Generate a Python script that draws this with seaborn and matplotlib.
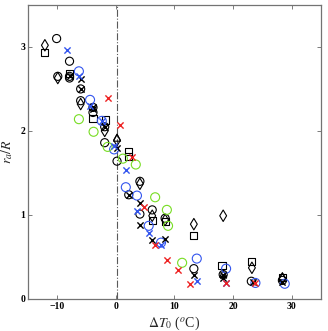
import matplotlib
matplotlib.use('Agg')
import matplotlib.pyplot as plt
import seaborn as sns
import pandas as pd

# dados (deltaT0 em oC, ra/R)
blk_o_x = [-10.1, -7.9, -9.9, -7.9, -6.0, -3.9, -1.9, 0.2, 4.1, 4.1, 6.2, 8.4, 13.3, 23.1, 28.4]
blk_o_y = [3.10, 2.83, 2.65, 2.63, 2.36, 2.22, 1.86, 1.64, 1.40, 1.01, 1.06, 0.96, 0.36, 0.21, 0.22]

blk_s_x = [-12.1, -7.9, -3.9, -1.7, 2.2, 2.2, 6.2, 8.4, 13.3, 18.1, 23.2, 28.4]
blk_s_y = [2.93, 2.68, 2.15, 2.13, 1.76, 1.70, 0.93, 0.92, 0.76, 0.40, 0.45, 0.26]

blk_d_x = [-12.1, -9.9, -6.0, -1.9, 0.2, 4.1, 6.2, 8.4, 13.3, 18.3, 23.2, 28.4]
blk_d_y = [3.02, 2.63, 2.32, 2.00, 1.89, 1.37, 0.99, 0.94, 0.89, 0.99, 0.37, 0.24]

blk_x_x = [-6.0, -3.9, 0.2, 4.1, 4.1, 6.2, 8.4, 13.3, 18.3, 23.4, 28.4]
blk_x_y = [2.62, 2.26, 1.80, 1.14, 0.88, 0.70, 0.71, 0.29, 0.25, 0.20, 0.20]

blk_ox_x = [-7.9, -6.0, -3.9, -1.9, 2.2, 18.3]
blk_ox_y = [2.65, 2.50, 2.28, 2.05, 1.24, 0.29]

blk_t_x = [0.2, 18.3, 28.4]
blk_t_y = [1.92, 0.30, 0.27]

blu_o_x = [-6.3, -4.4, -2.4, -0.3, 1.7, 3.6, 5.6, 7.7, 13.8, 18.8, 23.8, 28.8]
blu_o_y = [2.71, 2.37, 2.12, 1.78, 1.33, 1.23, 0.87, 0.67, 0.48, 0.36, 0.19, 0.18]

blu_x_x = [-8.4, -6.3, -4.4, -2.4, -0.3, 1.7, 3.6, 5.6, 7.7, 13.8, 18.8]
blu_x_y = [2.96, 2.66, 2.30, 2.12, 1.82, 1.54, 1.05, 0.79, 0.64, 0.21, 0.19]

grn_o_x = [-6.3, -3.8, -1.4, 1.2, 3.4, 6.7, 8.7, 8.9, 11.3]
grn_o_y = [2.14, 1.99, 1.81, 1.67, 1.60, 1.21, 1.06, 0.87, 0.43]

red_x_x = [-1.4, 0.7, 2.7, 4.8, 6.7, 8.7, 10.6, 12.6, 18.8, 23.8]
red_x_y = [2.39, 2.07, 1.69, 1.09, 0.64, 0.46, 0.35, 0.18, 0.19, 0.19]

sns.set_style('ticks')
plt.rcParams['font.family'] = ['Liberation Serif', 'DejaVu Serif']
plt.rcParams['mathtext.fontset'] = 'stix'

fig = plt.figure(figsize=(3.28, 3.31), dpi=100)
ax = fig.add_axes([0.085, 0.097, 0.894, 0.888])

def aberto(xs, ys, cor, mk, s=34):
    sns.scatterplot(x=xs, y=ys, marker=mk, s=s, facecolors='none',
                    edgecolor=cor, linewidth=0.8, ax=ax, zorder=3)

def cruz(xs, ys, cor, s=20):
    sns.scatterplot(x=xs, y=ys, marker='x', s=s, color=cor,
                    linewidth=1.0, ax=ax, zorder=4)

aberto(blk_o_x, blk_o_y, 'k', 'o')
aberto(blk_s_x, blk_s_y, 'k', 's', 26)
aberto(blk_d_x, blk_d_y, 'k', 'd', 34)
aberto(blk_t_x, blk_t_y, 'k', '^', 26)
aberto(blk_ox_x, blk_ox_y, 'k', 'o')
cruz(blk_ox_x, blk_ox_y, 'k')
cruz(blk_x_x, blk_x_y, 'k')
aberto(blu_o_x, blu_o_y, '#3355ee', 'o', 42)
cruz(blu_x_x, blu_x_y, '#3355ee')
aberto(grn_o_x, grn_o_y, '#77dd22', 'o', 42)
cruz(red_x_x, red_x_y, '#ee2222')

ax.axvline(0.2, color='0.35', linestyle='-.', linewidth=0.8, zorder=1)

ax.set_xlim(-15, 35)
ax.set_ylim(0, 3.5)
ax.set_xticks([-10, 0, 10, 20, 30])
ax.set_yticks([0, 1, 2, 3])
ax.tick_params(direction='in', top=True, right=True, length=3, width=0.6,
               labelsize=7, pad=2, colors='0.4', labelcolor='k')
for lab in ax.get_xticklabels() + ax.get_yticklabels():
    lab.set_fontweight('bold')
for sp in ax.spines.values():
    sp.set_color('0.45')
    sp.set_linewidth(0.9)

ax.set_xlabel(r'$\Delta T_0$ ($^o$C)', fontsize=10, labelpad=1)
ax.set_ylabel(r'$r_a/R$', fontsize=10, labelpad=2)
ax.xaxis.set_label_coords(0.5, -0.055)
ax.yaxis.set_label_coords(-0.045, 0.5)

fig.savefig('out.png', dpi=100)
